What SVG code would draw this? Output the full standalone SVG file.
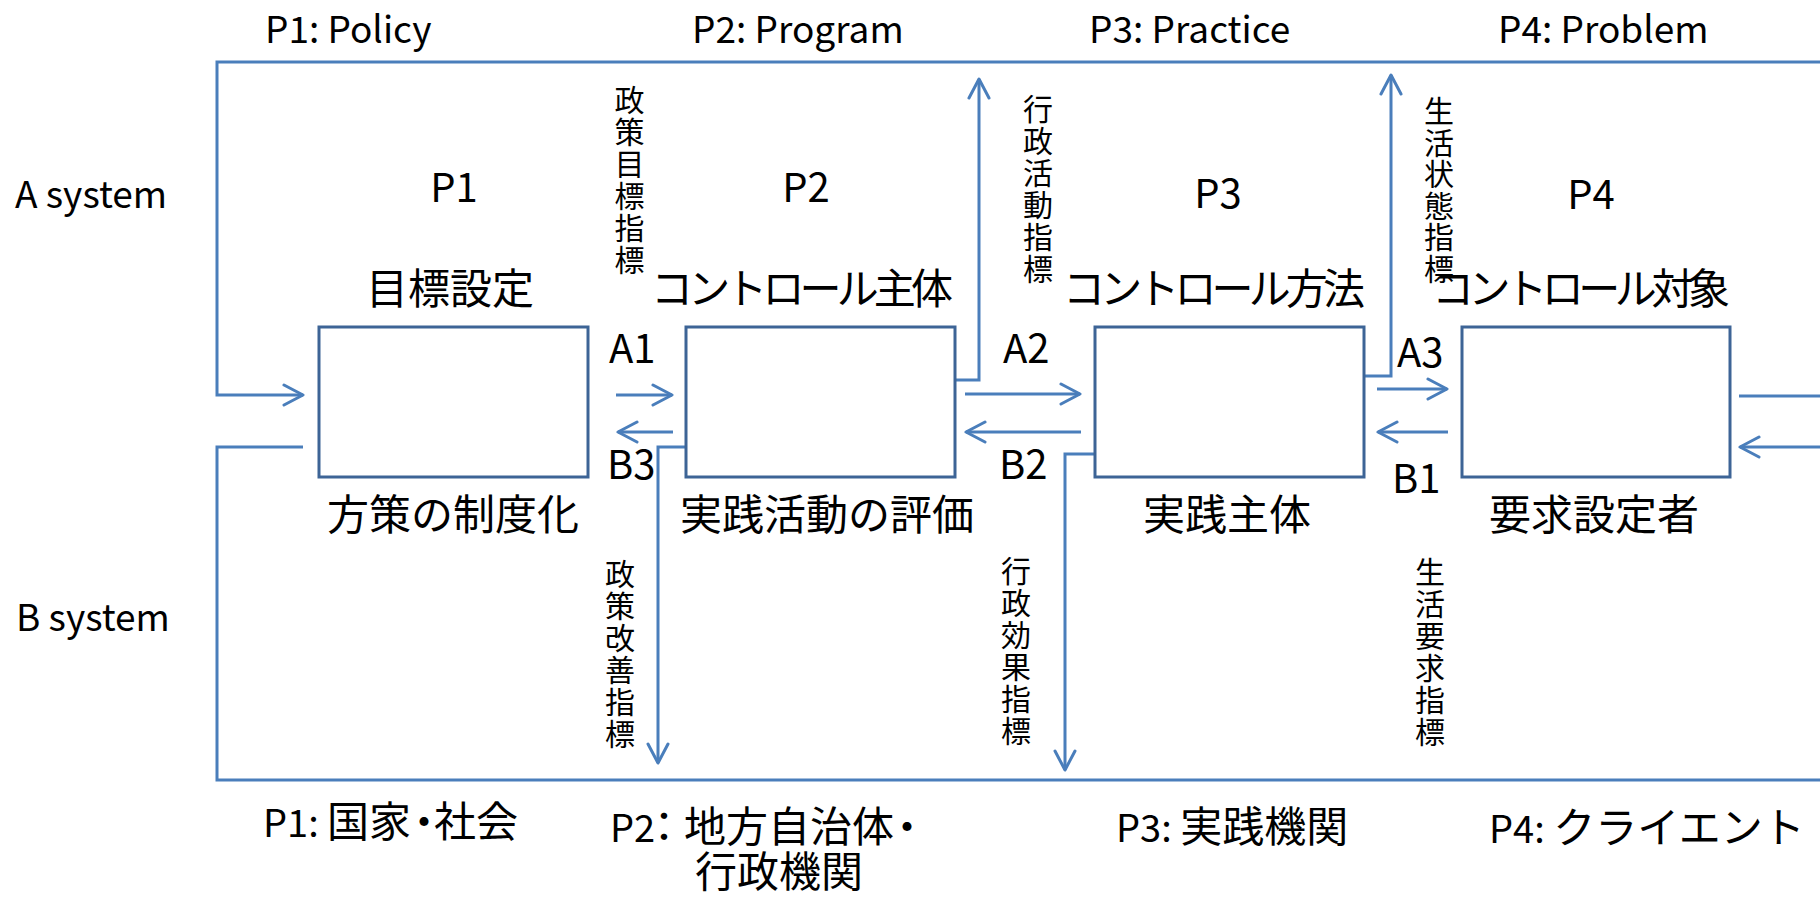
<svg xmlns="http://www.w3.org/2000/svg" width="1820" height="899" viewBox="0 0 1820 899">
<style>
.bg{fill:#fff}
.box{fill:#fff;stroke:#3D6496;stroke-width:3}
.conn{fill:none;stroke:#4A7EBB;stroke-width:3}
.t{font-family:"Noto Sans CJK JP","Noto Sans",sans-serif;fill:#000}
.lat{font-size:40px}
.lat2{font-size:37px}
.jp{font-size:42px}
.mid{text-anchor:middle}
.v{font-size:30px;text-anchor:middle}
</style>
<defs>
<marker id="ah" markerUnits="userSpaceOnUse" viewBox="0 0 24 24" markerWidth="24" markerHeight="24" refX="21" refY="12" orient="auto">
<path d="M2,2 L21,12 L2,22" fill="none" stroke="#4A7EBB" stroke-width="3" stroke-linejoin="round" stroke-linecap="round"/>
</marker>
</defs>
<rect class="bg" x="0" y="0" width="1820" height="899"/>

<g id="connectors">
<path class="conn" d="M1820,62 H217 V395 H303" marker-end="url(#ah)"/>
<path class="conn" d="M303,447 H217 V780 H1820"/>
<path class="conn" d="M616,395 H672" marker-end="url(#ah)"/>
<path class="conn" d="M673,432 H618" marker-end="url(#ah)"/>
<path class="conn" d="M686,447 H658 V763" marker-end="url(#ah)"/>
<path class="conn" d="M955,380 H979 V79" marker-end="url(#ah)"/>
<path class="conn" d="M965,394 H1080" marker-end="url(#ah)"/>
<path class="conn" d="M1081,432 H966" marker-end="url(#ah)"/>
<path class="conn" d="M1095,454 H1065 V770" marker-end="url(#ah)"/>
<path class="conn" d="M1364,376 H1391 V75" marker-end="url(#ah)"/>
<path class="conn" d="M1377,389 H1447" marker-end="url(#ah)"/>
<path class="conn" d="M1448,432 H1378" marker-end="url(#ah)"/>
<path class="conn" d="M1739,396 H1820"/>
<path class="conn" d="M1820,447 H1740" marker-end="url(#ah)"/>
</g>

<g id="connector-labels">
<text class="t lat" x="609" y="363">A1</text>
<text class="t lat" x="607" y="479">B3</text>
<text class="t lat" x="1003" y="363">A2</text>
<text class="t lat" x="999" y="479">B2</text>
<text class="t lat" x="1397" y="367">A3</text>
<text class="t lat" x="1392" y="493">B1</text>
<text class="t v" x="629.5" y="111"><tspan x="629.5" y="111">政</tspan><tspan x="629.5" y="143">策</tspan><tspan x="629.5" y="175">目</tspan><tspan x="629.5" y="207">標</tspan><tspan x="629.5" y="239">指</tspan><tspan x="629.5" y="271">標</tspan></text>
<text class="t v" x="1038" y="120"><tspan x="1038" y="120">行</tspan><tspan x="1038" y="152">政</tspan><tspan x="1038" y="184">活</tspan><tspan x="1038" y="216">動</tspan><tspan x="1038" y="248">指</tspan><tspan x="1038" y="280">標</tspan></text>
<text class="t v" x="1439" y="122"><tspan x="1439" y="122">生</tspan><tspan x="1439" y="153.6">活</tspan><tspan x="1439" y="185.2">状</tspan><tspan x="1439" y="216.8">態</tspan><tspan x="1439" y="248.4">指</tspan><tspan x="1439" y="280">標</tspan></text>
<text class="t v" x="620" y="585"><tspan x="620" y="585">政</tspan><tspan x="620" y="617">策</tspan><tspan x="620" y="649">改</tspan><tspan x="620" y="681">善</tspan><tspan x="620" y="713">指</tspan><tspan x="620" y="745">標</tspan></text>
<text class="t v" x="1016" y="582"><tspan x="1016" y="582">行</tspan><tspan x="1016" y="614">政</tspan><tspan x="1016" y="646">効</tspan><tspan x="1016" y="678">果</tspan><tspan x="1016" y="710">指</tspan><tspan x="1016" y="742">標</tspan></text>
<text class="t v" x="1430" y="583"><tspan x="1430" y="583">生</tspan><tspan x="1430" y="615">活</tspan><tspan x="1430" y="647">要</tspan><tspan x="1430" y="679">求</tspan><tspan x="1430" y="711">指</tspan><tspan x="1430" y="743">標</tspan></text>
</g>

<g id="node-p1">
<rect class="box" x="319" y="327" width="269" height="150"/>
<text class="t lat mid" x="454" y="202">P1</text>
<text class="t jp mid" x="450" y="304">目標設定</text>
<text class="t jp mid" x="453" y="530">方策の制度化</text>
</g>
<g id="node-p2">
<rect class="box" x="686" y="327" width="269" height="150"/>
<text class="t lat mid" x="806" y="202">P2</text>
<text class="t jp" x="651" y="304" textLength="302" lengthAdjust="spacing">コントロール主体</text>
<text class="t jp mid" x="827" y="530">実践活動の評価</text>
</g>
<g id="node-p3">
<rect class="box" x="1095" y="327" width="269" height="150"/>
<text class="t lat mid" x="1218" y="208">P3</text>
<text class="t jp" x="1063" y="304" textLength="302" lengthAdjust="spacing">コントロール方法</text>
<text class="t jp mid" x="1227" y="530">実践主体</text>
</g>
<g id="node-p4">
<rect class="box" x="1462" y="327" width="268" height="150"/>
<text class="t lat mid" x="1591" y="209">P4</text>
<text class="t jp" x="1432" y="304" textLength="298" lengthAdjust="spacing">コントロール対象</text>
<text class="t jp mid" x="1594" y="530">要求設定者</text>
</g>

<g id="labels">
<text class="t lat2" x="265" y="43">P1: Policy</text>
<text class="t lat2" x="692" y="43">P2: Program</text>
<text class="t lat2" x="1089" y="43">P3: Practice</text>
<text class="t lat2" x="1498" y="43">P4: Problem</text>
<text class="t lat2" x="15" y="208">A system</text>
<text class="t lat2" x="16" y="631">B system</text>
<text class="t jp" x="263" y="837"><tspan font-size="38">P1: </tspan><tspan x="327">国家</tspan><tspan x="403">・</tspan><tspan x="434">社会</tspan></text>
<text class="t jp" x="610" y="842"><tspan font-size="38">P2</tspan><tspan x="643">：</tspan><tspan x="684">地方自治体</tspan><tspan x="886">・</tspan></text>
<text class="t jp mid" x="779" y="887">行政機関</text>
<text class="t jp" x="1116" y="842"><tspan font-size="38">P3: </tspan>実践機関</text>
<text class="t jp" x="1489" y="843"><tspan font-size="38">P4: </tspan>クライエント</text>
</g>
</svg>
